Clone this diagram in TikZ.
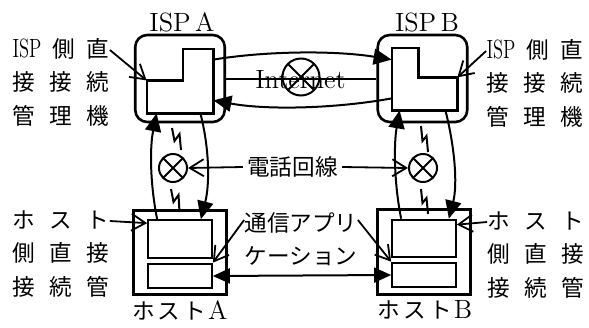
\documentclass[tikz,border=0pt]{standalone}
\usepackage{fontspec}
\usepackage{graphicx}
\newfontfamily\jp{Noto Sans CJK JP}
\usetikzlibrary{arrows.meta, positioning, calc}

% Japanese text size
\newcommand{\ja}{\jp\fontsize{11.3pt}{14pt}\selectfont}
% side labels are spread to one width
\newlength{\sidew}
\setlength{\sidew}{48.5pt}
\newcommand{\spreadline}[1]{\makebox[\sidew][s]{#1}}

\tikzset{
  ispbox/.style={draw, line width=1.3pt, rounded corners=6pt, minimum width=44.75pt, minimum height=43.5pt, inner sep=0pt},
  hostbox/.style={draw, line width=1.3pt, minimum width=46.5pt, minimum height=42.25pt, inner sep=0pt},
  mgrbox/.style={draw, line width=1.1pt, minimum width=31.75pt, minimum height=18.75pt, inner sep=0pt},
  appbox/.style={draw, line width=1.1pt, minimum width=31.75pt, minimum height=12.25pt, inner sep=0pt},
  rtrshape/.style={minimum width=33pt, minimum height=32pt, inner sep=0pt},
  router/.style={line width=1.1pt, line join=miter},
  xcirc/.style={circle, draw, line width=1pt, inner sep=0pt, path picture={
      \draw[line width=1pt] (path picture bounding box.south west) -- (path picture bounding box.north east)
        (path picture bounding box.north west) -- (path picture bounding box.south east);}},
  side/.style={inner sep=0pt, text height=9pt, text depth=2pt},
  conn/.style={line width=1pt, -{Triangle[length=9pt,width=8pt]}},
  twoway/.style={line width=1pt, {Triangle[length=8.5pt,width=7.5pt]}-{Triangle[length=8.5pt,width=7.5pt]}},
  pointer/.style={line width=0.9pt, -{Straight Barb[length=7pt,width=8.5pt]}},
  bolt/.style={line width=1pt, line join=miter}
}

\begin{document}
\begin{tikzpicture}[x=0.5pt, y=-0.5pt, font=\fontsize{13.2pt}{16pt}\selectfont, node distance=5.5pt]
\useasboundingbox (0,0) rectangle (589,327);

% ISP side
\node[ispbox] (ispA) at (180,78.5) {};
\node[ispbox] (ispB) at (422.5,78.5) {};
\node (ispAtxt) at (182,22) {ISP\,A};
\node (ispBtxt) at (427,22) {ISP\,B};

% direct connection managers (L shaped)
\node[rtrshape] (rtrA) at (180,81) {};
\node[rtrshape, minimum width=32.5pt, minimum height=31pt] (rtrB) at (424.5,79) {};
\draw[router] (rtrA.south west) -- ++(0,-33) coordinate (stepA) -- ++(36,0)
  |- (rtrA.north east) -- (rtrA.south east) -- cycle;
\draw[router] (rtrB.south east) -- ++(0,-33) coordinate (stepB) -- ++(-39,0)
  |- (rtrB.north west) -- (rtrB.south west) -- cycle;

% hosts
\node[hostbox] (hostA) at (180,252.5) {};
\node[hostbox] (hostB) at (424,252) {};
\node[mgrbox] (mgrA) at (180,239) {};
\node[appbox] (appA) at (180,276) {};
\node[mgrbox] (mgrB) at (424,238.5) {};
\node[appbox] (appB) at (424,275) {};
\node (hostAtxt) at (180,310) {{\ja ホ\hspace{1.5pt}ス\hspace{1.5pt}ト}\hspace{1pt}A};
\node (hostBtxt) at (425,310) {{\ja ホ\hspace{1.5pt}ス\hspace{1.5pt}ト}\hspace{1pt}B};

% Internet
\node[xcirc, minimum size=18.5pt] (inet) at (301,77) {};
\node (inettxt) at (300.5,80) {Internet};
\draw[conn] ([yshift=-5.5pt]rtrA.north east) .. controls +(55,-9) and +(-55,-9) .. ([yshift=-6pt]rtrB.north west);
\draw[line width=1pt] (ispA.east) -- (ispB.west);
\draw[conn] ([yshift=6pt]rtrB.south west) .. controls +(-55,10) and +(55,10) .. ([yshift=6.5pt]rtrA.south east);

% phone lines
\node[xcirc, minimum size=14pt] (qa) at (173,168) {};
\node[xcirc, minimum size=14pt] (qb) at (423,168) {};
\draw[conn] ([xshift=5pt]mgrA.north west) .. controls +(-7,-35) and +(-7,35) .. ([xshift=5pt]rtrA.south west);
\draw[conn] ([xshift=-6.5pt]rtrA.south east) .. controls +(9,35) and +(9,-35) .. ([xshift=-6pt]mgrA.north east);
\draw[conn] ([xshift=5pt]mgrB.north west) .. controls +(-7,-35) and +(-6,35) .. ([xshift=4pt]rtrB.south west);
\draw[conn] ([xshift=-6pt]rtrB.south east) .. controls +(9,35) and +(9,-35) .. ([xshift=-4pt]mgrB.north east);
\draw[bolt] (qa.north) ++(-1,-25) -- ++(2.5,13) -- ++(5,-7) -- ++(1.5,16);
\draw[bolt] (qa.south) ++(-2,6) -- ++(2.5,13) -- ++(5,-7) -- ++(1,17);
\draw[bolt] (qb.north) ++(-2,-27) -- ++(1.5,15) -- ++(4,-5) -- ++(1.5,16);
\draw[bolt] (qb.south) ++(-2,6) -- ++(1.5,14) -- ++(4,-5) -- ++(1.5,16);
\node[inner sep=2pt] (teltxt) at (292.5,167) {\ja 電話回線};
\draw[pointer] (teltxt.west) -- (qa.east);
\draw[pointer] (teltxt.east) -- (qb.west);

% host to host
\draw[twoway] (appA.east) -- (appB.west);
\node[side] (apptxt) at (301,224) {\ja 通信アプリ};
\node[side, below=of apptxt] (apptxt2) {\ja ケーション};
\draw[pointer] ([yshift=2pt]apptxt.west) -- (appA.north east);
\draw[pointer] ([yshift=2pt]apptxt.east) -- (appB.north west);

% side labels, ISP
\node[side] (sideA1) at (61,50) {\spreadline{\scalebox{0.7}[1]{ISP}\hfill{\ja 側}\hfill{\ja 直}}};
\node[side, below=of sideA1] (sideA2) {\spreadline{\ja 接\hfill 接\hfill 続}};
\node[side, below=of sideA2] (sideA3) {\spreadline{\ja 管\hfill 理\hfill 機}};
\node[side] (sideB1) at (535,51) {\spreadline{\scalebox{0.7}[1]{ISP}\hfill{\ja 側}\hfill{\ja 直}}};
\node[side, below=of sideB1] (sideB2) {\spreadline{\ja 接\hfill 接\hfill 続}};
\node[side, below=of sideB2] (sideB3) {\spreadline{\ja 管\hfill 理\hfill 機}};
\draw[pointer] (sideA1.east) -- (stepA);
\draw[pointer] (sideB1.west) -- (stepB);

% side labels, hosts
\node[side] (sideHA1) at (61,221) {\spreadline{\ja ホ\hfill ス\hfill ト}};
\node[side, below=of sideHA1] (sideHA2) {\spreadline{\ja 側\hfill 直\hfill 接}};
\node[side, below=of sideHA2] (sideHA3) {\spreadline{\ja 接\hfill 続\hfill 管}};
\node[side] (sideHB1) at (536,222) {\spreadline{\ja ホ\hfill ス\hfill ト}};
\node[side, below=of sideHB1] (sideHB2) {\spreadline{\ja 側\hfill 直\hfill 接}};
\node[side, below=of sideHB2] (sideHB3) {\spreadline{\ja 接\hfill 続\hfill 管}};
\draw[pointer] (sideHA1.east) -- ([yshift=-2pt]mgrA.north west);
\draw[pointer] (sideHB1.west) -- ([yshift=-3pt]mgrB.north east);
\end{tikzpicture}
\end{document}
